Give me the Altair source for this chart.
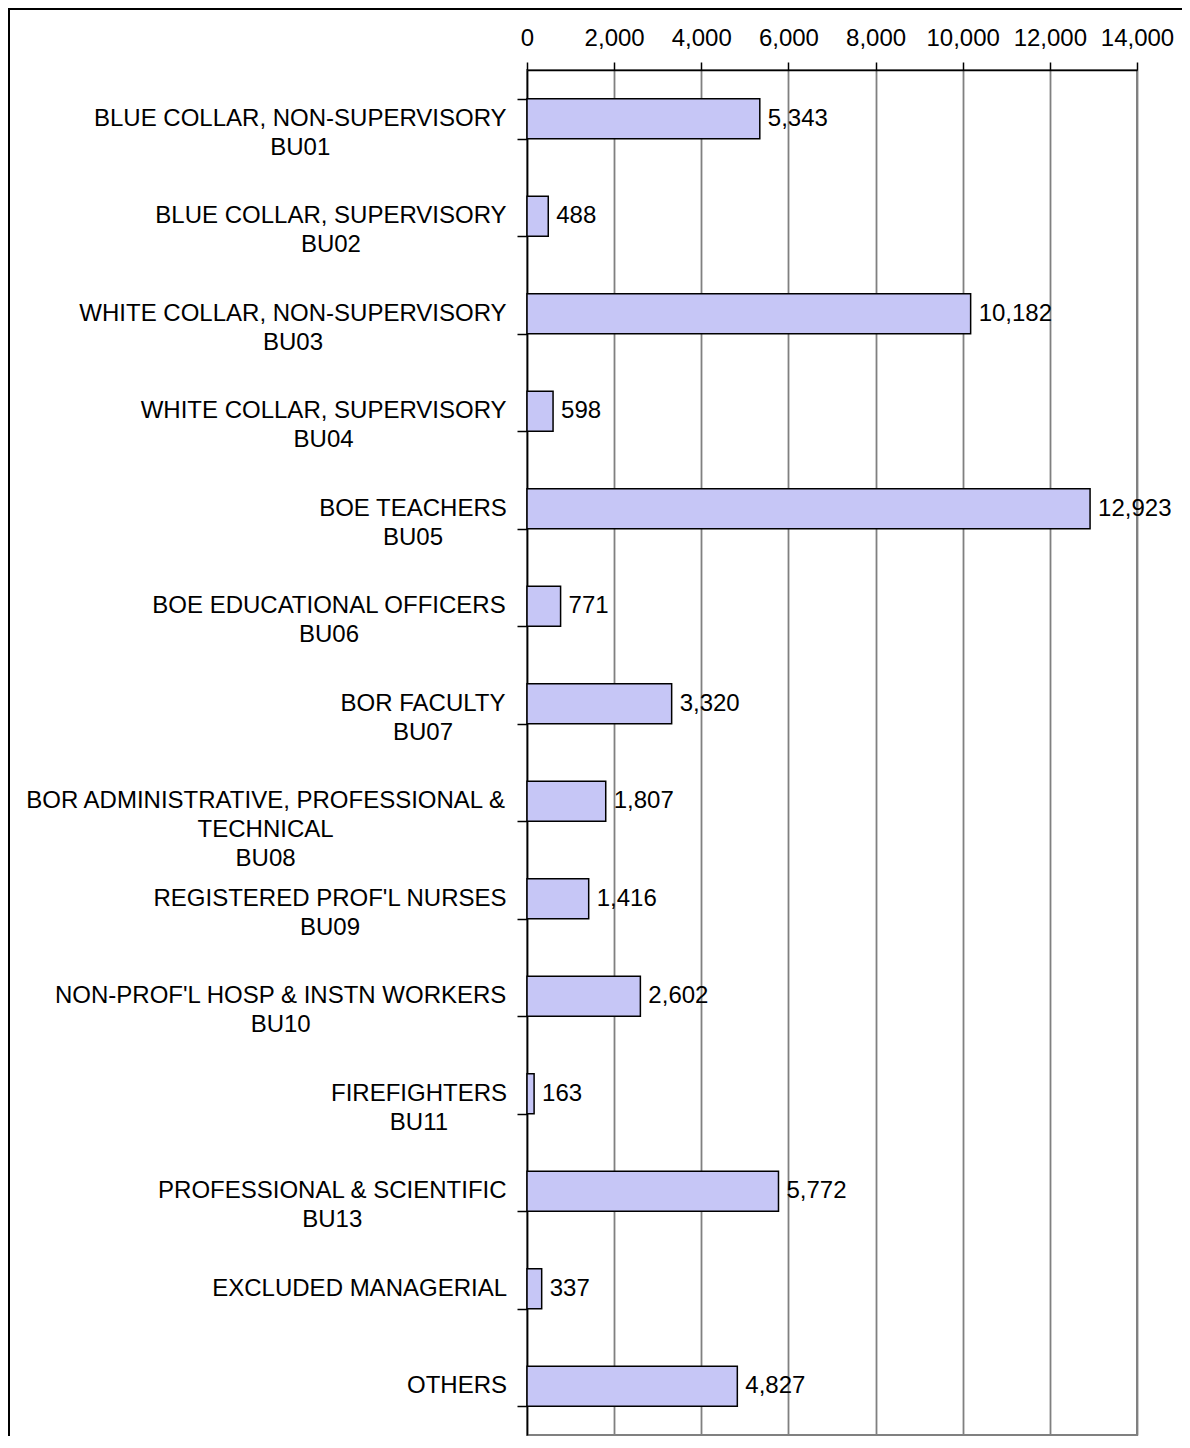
import altair as alt
import pandas as pd

# ---- data ----
names = [
    "BLUE COLLAR, NON-SUPERVISORY",
    "BLUE COLLAR, SUPERVISORY",
    "WHITE COLLAR, NON-SUPERVISORY",
    "WHITE COLLAR, SUPERVISORY",
    "BOE TEACHERS",
    "BOE EDUCATIONAL OFFICERS",
    "BOR FACULTY",
    "BOR ADMINISTRATIVE, PROFESSIONAL &|TECHNICAL",
    "REGISTERED PROF'L NURSES",
    "NON-PROF'L HOSP & INSTN WORKERS",
    "FIREFIGHTERS",
    "PROFESSIONAL & SCIENTIFIC",
    "EXCLUDED MANAGERIAL",
    "OTHERS",
]
codes = ["BU01", "BU02", "BU03", "BU04", "BU05", "BU06", "BU07", "BU08",
         "BU09", "BU10", "BU11", "BU13", "", ""]
values = [5343, 488, 10182, 598, 12923, 771, 3320, 1807, 1416, 2602, 163, 5772, 337, 4827]
x_ticks = [0, 2000, 4000, 6000, 8000, 10000, 12000, 14000]

FONT = "Liberation Sans"
FS = 24
W, H = 610, 1365
XMAX = 14000

# Arial / Liberation Sans advance widths (per 1000 em) for measuring label blocks
_aw = {' ': 278, ',': 278, '&': 667, "'": 191, '-': 333, '.': 278,
       'A': 667, 'B': 667, 'C': 722, 'D': 722, 'E': 667, 'F': 611, 'G': 778,
       'H': 722, 'I': 278, 'J': 500, 'K': 667, 'L': 556, 'M': 833, 'N': 722,
       'O': 778, 'P': 667, 'Q': 778, 'R': 722, 'S': 667, 'T': 611, 'U': 722,
       'V': 667, 'W': 944, 'X': 667, 'Y': 667, 'Z': 611}


def text_width(s):
    return sum(_aw.get(c, 556) for c in s) * FS / 1000.0


labels = [n + ("|" + c if c else "") for n, c in zip(names, codes)]
RIGHT_EDGE = -20  # pixels left of the value axis where label blocks end
# centre of each label block, expressed in the x scale's data units
centers = [(RIGHT_EDGE - max(text_width(p) for p in lab.split("|")) / 2) * XMAX / W
           for lab in labels]

df = pd.DataFrame({"label": labels, "value": values, "cx": centers})

xscale = alt.Scale(domain=[0, XMAX], nice=False, zero=False, clamp=False)

yenc = alt.Y("label:N", sort=labels,
             scale=alt.Scale(paddingInner=0.59, paddingOuter=0.295),
             axis=alt.Axis(labels=False, title=None, tickBand="extent", tickSize=10,
                           tickColor="black", domainColor="black", domainWidth=1.5,
                           tickWidth=1.5, grid=False))

xenc = alt.X("value:Q", scale=xscale,
             axis=alt.Axis(orient="top", values=x_ticks, format=",.0f", title=None,
                           grid=True, gridColor="#808080", gridWidth=1.8,
                           domainColor="black", domainWidth=1.5,
                           tickColor="black", tickWidth=1.5, tickSize=8,
                           labelPadding=12, labelFont=FONT, labelFontSize=FS,
                           labelColor="black", labelOverlap=False, labelFlush=False))

bars = alt.Chart(df).mark_bar(fill="#c6c6f6", stroke="black", strokeWidth=1.5).encode(
    x=xenc, y=yenc)

vals = alt.Chart(df).mark_text(align="left", baseline="middle", dx=8,
                               font=FONT, fontSize=FS, color="black").encode(
    x=alt.X("value:Q", scale=xscale), y=alt.Y("label:N", sort=labels),
    text=alt.Text("value:Q", format=",.0f"))

cats = alt.Chart(df).mark_text(align="center", baseline="middle", lineBreak="|",
                               lineHeight=29, font=FONT, fontSize=FS, color="black").encode(
    x=alt.X("cx:Q", scale=xscale),
    y=alt.Y("label:N", sort=labels),
    text="label:N")

frame = alt.Chart(df).mark_rect(fill=None, stroke="black", strokeWidth=2).encode(
    x=alt.value(-518), x2=alt.value(W + 80), y=alt.value(-61), y2=alt.value(H + 40))

chart = alt.layer(bars, vals, cats, frame).properties(
    width=W, height=H,
    autosize=alt.AutoSizeParams(type="none"),
    padding={"left": 519, "top": 62, "right": 45, "bottom": 1},
    background="white",
).configure_view(stroke="#808080", strokeWidth=2)

chart.save("out.html", embed_options={"renderer": "svg", "actions": False})
